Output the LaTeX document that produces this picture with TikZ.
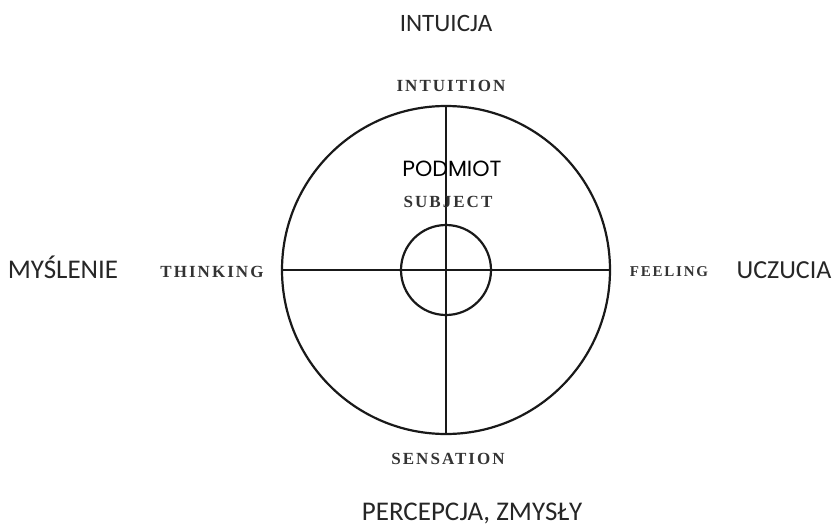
\documentclass[tikz,border=0pt]{standalone}
\usepackage{fontspec}
\setmainfont{Carlito}
\newfontfamily\plfont{Carlito}
\newfontfamily\podfont{Poppins}
\newfontfamily\enfont[LetterSpace=12]{Liberation Serif}
\definecolor{engray}{HTML}{333333}
\begin{document}
\begin{tikzpicture}[x=1pt,y=-1pt,
  pl/.style={inner sep=0pt,font=\plfont\fontsize{#1}{#1}\selectfont,text=black!85},
  pl/.default=25,
  pod/.style={inner sep=0pt,font=\podfont\fontsize{22}{22}\selectfont},
  en/.style={inner sep=0pt,font=\enfont\bfseries\fontsize{#1}{#1}\selectfont,text=engray},
  en/.default=17,
  ring/.style={line width=2.2pt,draw=black!90}]
\useasboundingbox (0,0) rectangle (832,527);
\coordinate (c) at (446,270);
\draw[ring] (c) circle[radius=164];
\draw[ring] (c) circle[radius=45];
\coordinate (top) at (446,106);
\coordinate (bot) at (446,434);
\coordinate (lft) at (282,270);
\coordinate (rgt) at (610,270);
\draw[ring] (top) -- (bot);
\draw[ring] (lft) -- (rgt);
\node[pl=25,anchor=base] (intuicja) at (446,32) {INTUICJA};
\node[en,anchor=base] (intuition) at (451,92) {INTUITION};
\node[pod,anchor=base] (podmiot) at (452,176) {PODMIOT};
\node[en,anchor=base] (subject) at (448,207) {SUBJECT};
\node[pl=27,anchor=base] (myslenie) at (63,278) {MYŚLENIE};
\node[en,anchor=base] (thinking) at (212,277) {THINKING};
\node[en=15,anchor=base] (feeling) at (669,276) {FEELING};
\node[pl=26,anchor=base] (uczucia) at (784,278) {UCZUCIA};
\node[en,anchor=base] (sensation) at (448,464) {SENSATION};
\node[pl=27,anchor=base] (percepcja) at (472,520) {PERCEPCJA, ZMYSŁY};
\end{tikzpicture}
\end{document}
